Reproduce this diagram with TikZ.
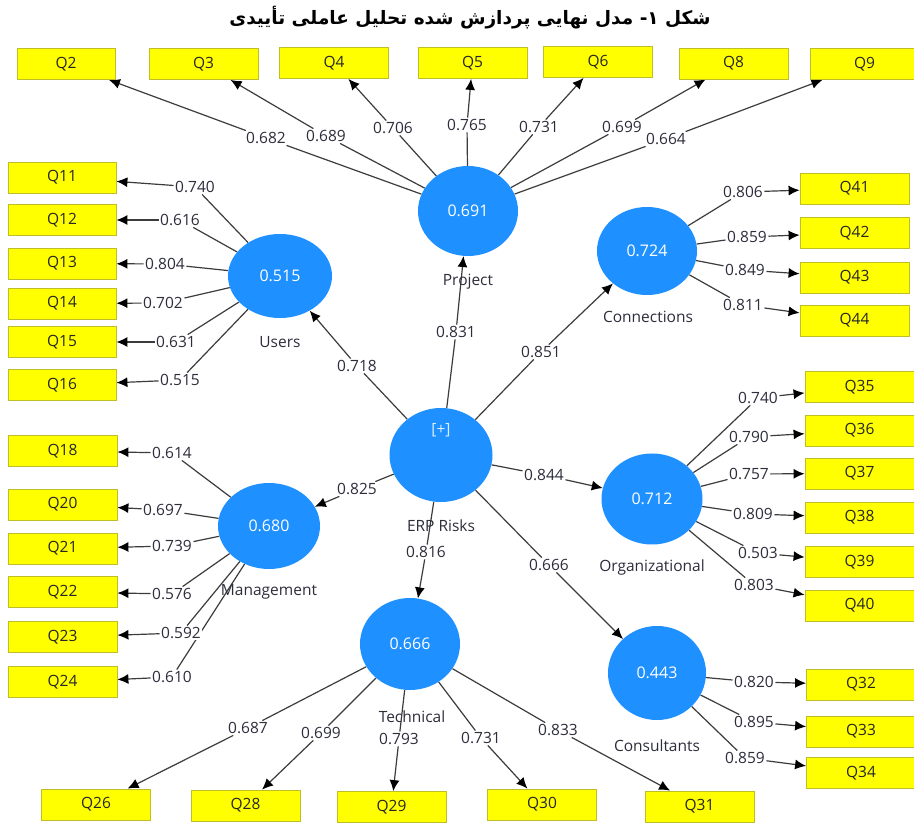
\documentclass[tikz,border=0pt]{standalone}
\usepackage{fontspec}
\setmainfont{Open Sans}
\newfontfamily\persianfont[Script=Arabic]{DejaVu Sans}
\TeXXeTstate=1
\usetikzlibrary{arrows.meta,shapes.geometric}
\pgfdeclarelayer{bgfill}
\pgfdeclarelayer{connectors}
\pgfsetlayers{bgfill,connectors,main}
\definecolor{boxyellow}{RGB}{255,255,0}
\definecolor{boxborder}{RGB}{190,190,40}
\definecolor{latblue}{RGB}{30,144,255}
\definecolor{linecol}{RGB}{60,60,60}
\definecolor{labcol}{RGB}{45,45,60}
\newcommand\qfont{\fontsize{15.5}{18}\selectfont}
\newcommand\latfont{\fontsize{16}{19}\selectfont}
\tikzset{
  ind/.style={draw=boxborder, line width=0.8pt, fill=boxyellow, minimum width=109pt, minimum height=31pt, inner sep=0pt, font=\qfont, text=black!85},
  lat/.style={ellipse, fill=latblue, inner sep=0pt, text=white, font=\latfont},
  lab/.style={fill=white, inner sep=1.5pt, text=labcol, font=\qfont},
  latname/.style={inner sep=0pt, text=labcol, font=\qfont},
  ln/.style={draw=linecol, line width=1.2pt},
  arr/.style={ln, -{Latex[length=11pt,width=10pt,color=black]}},
}
\begin{document}
\begin{tikzpicture}[x=1pt,y=-1pt]
\clip (0,0) rectangle (914,826);
\begin{pgfonlayer}{bgfill}
\fill[white] (0,0) rectangle (914,826);
\end{pgfonlayer}
% title
\node (title) at (470,18) {\persianfont\bfseries\fontsize{18.5}{22}\selectfont\beginR شکل ۱- مدل نهایی پردازش شده تحلیل عاملی تأییدی\endR};
% latent variables
\node[lat, minimum width=100pt, minimum height=90pt] (proj) at (468,211) {0.691};
\node[lat, minimum width=104pt, minimum height=84pt] (users) at (280,276) {0.515};
\node[lat, minimum width=100pt, minimum height=88pt] (conn) at (647,251) {0.724};
\node[lat, minimum width=103pt, minimum height=94pt] (erp) at (441,455) {};
\node[text=white!85!latblue, font=\qfont, inner sep=0pt] (plus) at (441,430) {[+]};
\node[lat, minimum width=102pt, minimum height=86pt] (mgmt) at (269,526) {0.680};
\node[lat, minimum width=101pt, minimum height=91pt] (org) at (652,499) {0.712};
\node[lat, minimum width=100pt, minimum height=92pt] (tech) at (410,644) {0.666};
\node[lat, minimum width=98pt, minimum height=94pt] (cons) at (657,673) {0.443};
% latent names
\node[latname] (nproj) at (468,282) {Project};
\node[latname] (nusers) at (280,342) {Users};
\node[latname] (nconn) at (648,317) {Connections};
\node[latname] (nerp) at (441,526) {ERP Risks};
\node[latname] (nmgmt) at (269,592) {Management};
\node[latname] (norg) at (652,567) {Organizational};
\node[latname] (ntech) at (412,717) {Technical};
\node[latname] (ncons) at (657,746) {Consultants};
% indicators
\node[ind, minimum width=98pt] (Q2) at (66,64) {Q2};
\node[ind] (Q3) at (203.5,64) {Q3};
\node[ind] (Q4) at (334,63) {Q4};
\node[ind] (Q5) at (472.5,63) {Q5};
\node[ind] (Q6) at (598,62) {Q6};
\node[ind] (Q8) at (733.5,63.5) {Q8};
\node[ind] (Q9) at (864.5,64) {Q9};
\node[ind, minimum width=108pt] (Q11) at (62,177.5) {Q11};
\node[ind, minimum width=108pt] (Q12) at (62,220) {Q12};
\node[ind, minimum width=108pt] (Q13) at (62,263.5) {Q13};
\node[ind, minimum width=108pt] (Q14) at (62,303.5) {Q14};
\node[ind, minimum width=108pt] (Q15) at (62,342) {Q15};
\node[ind, minimum width=108pt] (Q16) at (62,385) {Q16};
\node[ind] (Q18) at (62.5,451) {Q18};
\node[ind] (Q20) at (62.5,504.5) {Q20};
\node[ind] (Q21) at (62.5,548.5) {Q21};
\node[ind] (Q22) at (62.5,592) {Q22};
\node[ind] (Q23) at (62.5,637) {Q23};
\node[ind] (Q24) at (62.5,682) {Q24};
\node[ind] (Q41) at (854.5,188.5) {Q41};
\node[ind] (Q42) at (854.5,233) {Q42};
\node[ind] (Q43) at (854.5,277.5) {Q43};
\node[ind] (Q44) at (854.5,320.5) {Q44};
\node[ind] (Q35) at (859.5,387) {Q35};
\node[ind] (Q36) at (859.5,430.5) {Q36};
\node[ind] (Q37) at (859.5,473.5) {Q37};
\node[ind] (Q38) at (859.5,517.5) {Q38};
\node[ind] (Q39) at (859.5,562) {Q39};
\node[ind] (Q40) at (859.5,605.5) {Q40};
\node[ind] (Q32) at (861,684.5) {Q32};
\node[ind] (Q33) at (861,731.5) {Q33};
\node[ind] (Q34) at (861,773) {Q34};
\node[ind] (Q26) at (96,804.5) {Q26};
\node[ind] (Q28) at (245.5,805.5) {Q28};
\node[ind] (Q29) at (391.5,807) {Q29};
\node[ind] (Q30) at (542,804.5) {Q30};
\node[ind] (Q31) at (699.5,806.5) {Q31};
% path coefficients labels
\node[lab] (l831) at (456,332) {0.831};
\node[lab] (l718) at (357,366) {0.718};
\node[lab] (l851) at (541,352) {0.851};
\node[lab] (l844) at (544,475) {0.844};
\node[lab] (l825) at (357,489) {0.825};
\node[lab] (l816) at (426,552) {0.816};
\node[lab] (l666) at (549,565) {0.666};
% loading labels
\node[lab] (p2) at (266,138) {0.682};
\node[lab] (p3) at (326,136) {0.689};
\node[lab] (p4) at (393,128) {0.706};
\node[lab] (p5) at (467,125) {0.765};
\node[lab] (p6) at (539,127) {0.731};
\node[lab] (p8) at (622,127) {0.699};
\node[lab] (p9) at (666,139) {0.664};
\node[lab] (u11) at (195,187) {0.740};
\node[lab] (u12) at (180,220) {0.616};
\node[lab] (u13) at (165,264) {0.804};
\node[lab] (u14) at (163,303) {0.702};
\node[lab] (u15) at (176,342) {0.631};
\node[lab] (u16) at (180,380) {0.515};
\node[lab] (m18) at (172,453) {0.614};
\node[lab] (m20) at (163,510) {0.697};
\node[lab] (m21) at (172,546) {0.739};
\node[lab] (m22) at (172,594) {0.576};
\node[lab] (m23) at (181,633) {0.592};
\node[lab] (m24) at (172,677) {0.610};
\node[lab] (c41) at (743,192) {0.806};
\node[lab] (c42) at (747,237) {0.859};
\node[lab] (c43) at (745,270) {0.849};
\node[lab] (c44) at (743,305) {0.811};
\node[lab] (o35) at (758,398) {0.740};
\node[lab] (o36) at (749,437) {0.790};
\node[lab] (o37) at (749,474) {0.757};
\node[lab] (o38) at (753,514) {0.809};
\node[lab] (o39) at (758,553) {0.503};
\node[lab] (o40) at (754,585) {0.803};
\node[lab] (s32) at (754,682) {0.820};
\node[lab] (s33) at (754,722) {0.895};
\node[lab] (s34) at (745,758) {0.859};
\node[lab] (t26) at (248,728) {0.687};
\node[lab] (t28) at (321,733) {0.699};
\node[lab] (t29) at (399,739) {0.793};
\node[lab] (t30) at (481,738) {0.731};
\node[lab] (t31) at (558,730) {0.833};
% connectors
\begin{pgfonlayer}{connectors}
\foreach \a/\l/\b in {erp/l831/proj, erp/l718/users, erp/l851/conn, erp/l844/org, erp/l825/mgmt, erp/l816/tech, erp/l666/cons,
  proj/p2/Q2, proj/p3/Q3, proj/p4/Q4, proj/p5/Q5, proj/p6/Q6, proj/p8/Q8, proj/p9/Q9,
  users/u11/Q11, users/u12/Q12, users/u13/Q13, users/u14/Q14, users/u15/Q15, users/u16/Q16,
  mgmt/m18/Q18, mgmt/m20/Q20, mgmt/m21/Q21, mgmt/m22/Q22, mgmt/m23/Q23, mgmt/m24/Q24,
  conn/c41/Q41, conn/c42/Q42, conn/c43/Q43, conn/c44/Q44,
  org/o35/Q35, org/o36/Q36, org/o37/Q37, org/o38/Q38, org/o39/Q39, org/o40/Q40,
  cons/s32/Q32, cons/s33/Q33, cons/s34/Q34,
  tech/t26/Q26, tech/t28/Q28, tech/t29/Q29, tech/t30/Q30, tech/t31/Q31}
{
  \draw[ln] (\a) -- (\l);
  \draw[arr] (\l) -- (\b);
}
\end{pgfonlayer}
\end{tikzpicture}
\end{document}
